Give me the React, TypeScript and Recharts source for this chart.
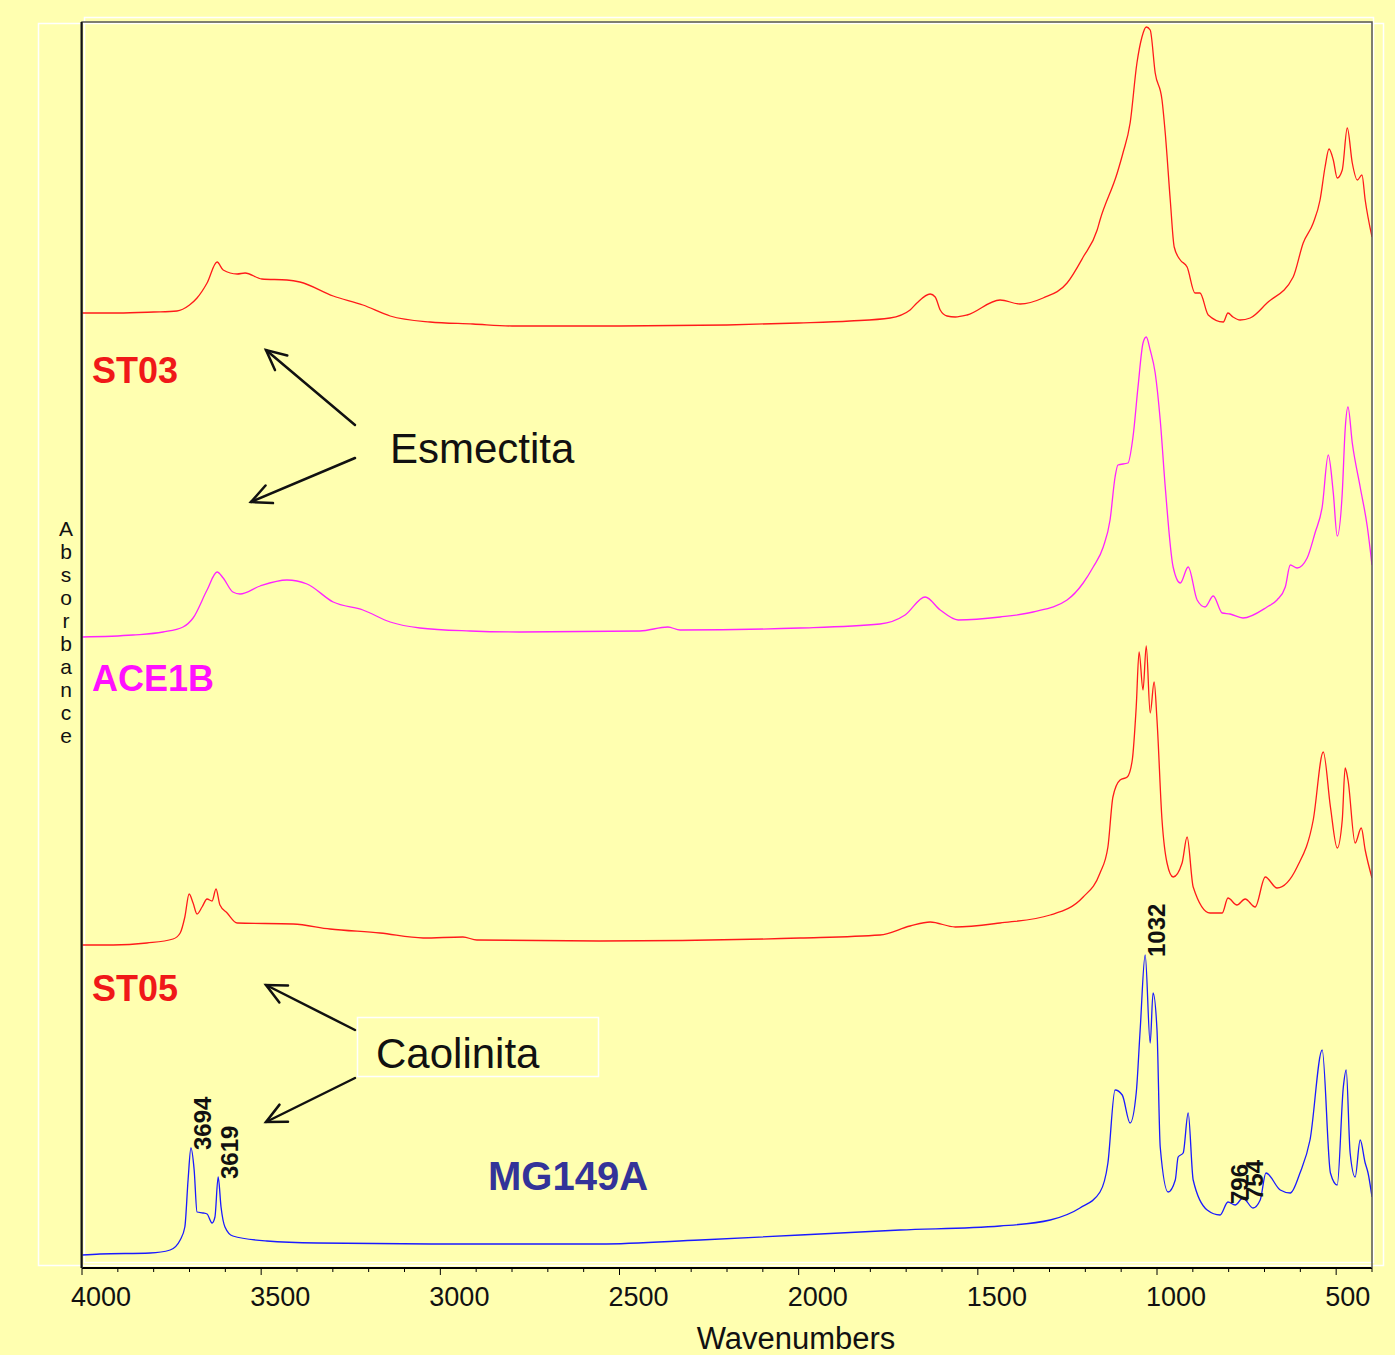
import React from "react";
import { LineChart, Line, XAxis, YAxis, ReferenceDot } from "recharts";

// ── FTIR spectra (wavenumber cm-1, absorbance offset per sample) ──

const ST03: [number, number][] = [
  [4000, 0.955], [3900, 0.955], [3800, 0.956], [3735, 0.957], [3700, 0.963], [3679, 0.97],
  [3651, 0.985], [3623, 1.006], [3606, 0.998], [3567, 0.994], [3545, 0.995], [3498, 0.989],
  [3428, 0.988], [3392, 0.986], [3299, 0.972], [3216, 0.963], [3140, 0.952], [3029, 0.946],
  [2909, 0.944], [2800, 0.942], [2500, 0.942], [2200, 0.943], [2000, 0.945], [1857, 0.947],
  [1745, 0.95], [1689, 0.958], [1670, 0.965], [1633, 0.974], [1619, 0.971], [1605, 0.958],
  [1586, 0.952], [1563, 0.951], [1530, 0.953], [1438, 0.968], [1382, 0.964], [1318, 0.97],
  [1251, 0.985], [1206, 1.011], [1167, 1.038], [1159, 1.048], [1111, 1.095], [1095, 1.115],
  [1075, 1.145], [1056, 1.205], [1042, 1.231], [1030, 1.241], [1019, 1.238], [1005, 1.195],
  [986, 1.168], [977, 1.135], [963, 1.068], [952, 1.021], [935, 1.008], [916, 1.001],
  [894, 0.975], [880, 0.975], [857, 0.953], [815, 0.946], [802, 0.955], [788, 0.951],
  [768, 0.948], [740, 0.95], [693, 0.965], [620, 0.991], [592, 1.025], [564, 1.045],
  [545, 1.068], [531, 1.101], [520, 1.119], [508, 1.108], [497, 1.09], [483, 1.098],
  [469, 1.14], [455, 1.105], [441, 1.088], [428, 1.093], [419, 1.068], [400, 1.031],
];

const ACE1B: [number, number][] = [
  [4000, 0.631], [3858, 0.633], [3774, 0.636], [3718, 0.641], [3690, 0.65], [3651, 0.678],
  [3623, 0.696], [3606, 0.69], [3579, 0.676], [3559, 0.674], [3503, 0.682], [3428, 0.688],
  [3372, 0.684], [3299, 0.666], [3216, 0.658], [3140, 0.646], [3057, 0.64], [2917, 0.637],
  [2778, 0.636], [2443, 0.637], [2365, 0.641], [2331, 0.638], [1996, 0.64], [1773, 0.644],
  [1703, 0.653], [1647, 0.671], [1605, 0.658], [1555, 0.648], [1438, 0.651], [1346, 0.656],
  [1251, 0.668], [1206, 0.685], [1178, 0.701], [1150, 0.721], [1131, 0.748], [1117, 0.791],
  [1109, 0.803], [1081, 0.805], [1067, 0.831], [1053, 0.881], [1039, 0.925], [1030, 0.931],
  [1019, 0.918], [1005, 0.895], [991, 0.848], [977, 0.781], [955, 0.701], [935, 0.685],
  [913, 0.701], [888, 0.668], [866, 0.661], [843, 0.672], [818, 0.655], [796, 0.654],
  [760, 0.65], [693, 0.661], [665, 0.668], [642, 0.681], [628, 0.703], [609, 0.7],
  [581, 0.71], [559, 0.735], [539, 0.761], [522, 0.813], [508, 0.775], [497, 0.732],
  [483, 0.775], [475, 0.838], [467, 0.861], [455, 0.825], [433, 0.781], [413, 0.741],
  [400, 0.703],
];

const ST05: [number, number][] = [
  [4000, 0.323], [3913, 0.323], [3819, 0.325], [3746, 0.329], [3726, 0.335], [3713, 0.351],
  [3701, 0.374], [3690, 0.365], [3679, 0.354], [3665, 0.361], [3651, 0.369], [3637, 0.367],
  [3626, 0.379], [3615, 0.363], [3595, 0.355], [3567, 0.345], [3411, 0.344], [3308, 0.339],
  [3168, 0.335], [3048, 0.33], [2937, 0.331], [2898, 0.328], [2554, 0.327], [1996, 0.33],
  [1773, 0.333], [1689, 0.342], [1633, 0.346], [1563, 0.341], [1438, 0.345], [1298, 0.353],
  [1206, 0.371], [1159, 0.395], [1137, 0.421], [1123, 0.471], [1103, 0.488], [1083, 0.491],
  [1069, 0.508], [1058, 0.561], [1050, 0.616], [1039, 0.578], [1030, 0.622], [1019, 0.555],
  [1008, 0.586], [1000, 0.548], [986, 0.448], [972, 0.405], [955, 0.391], [930, 0.405],
  [916, 0.431], [899, 0.381], [852, 0.355], [818, 0.355], [802, 0.37], [777, 0.363],
  [754, 0.369], [726, 0.361], [698, 0.391], [665, 0.38], [609, 0.401], [564, 0.448],
  [536, 0.516], [516, 0.461], [497, 0.42], [483, 0.448], [475, 0.5], [467, 0.488],
  [447, 0.425], [430, 0.44], [419, 0.418], [400, 0.39],
];

const MG149A: [number, number][] = [
  [4000, 0.013], [3950, 0.014], [3810, 0.015], [3754, 0.018], [3726, 0.028], [3713, 0.041],
  [3704, 0.088], [3696, 0.12], [3687, 0.098], [3679, 0.056], [3662, 0.055], [3651, 0.054],
  [3637, 0.045], [3629, 0.051], [3620, 0.091], [3612, 0.061], [3601, 0.041], [3579, 0.032],
  [3484, 0.027], [3344, 0.025], [2973, 0.024], [2554, 0.024], [2275, 0.028], [1717, 0.038],
  [1438, 0.042], [1298, 0.048], [1215, 0.06], [1159, 0.076], [1137, 0.105], [1117, 0.178],
  [1097, 0.173], [1075, 0.145], [1058, 0.175], [1047, 0.238], [1033, 0.313], [1019, 0.225],
  [1011, 0.275], [1000, 0.238], [991, 0.121], [969, 0.076], [949, 0.088], [941, 0.111],
  [927, 0.115], [913, 0.155], [899, 0.088], [860, 0.058], [824, 0.053], [802, 0.066],
  [782, 0.063], [760, 0.07], [732, 0.06], [712, 0.068], [696, 0.095], [656, 0.078],
  [628, 0.075], [601, 0.095], [573, 0.128], [539, 0.218], [516, 0.095], [497, 0.083],
  [480, 0.181], [472, 0.198], [461, 0.115], [447, 0.091], [433, 0.128], [419, 0.105],
  [411, 0.095], [400, 0.071],
];

const PEAKS = [
  { label: "3694", wn: 3696, a: 0.12 },
  { label: "3619", wn: 3620, a: 0.091 },
  { label: "1032", wn: 1033, a: 0.313 },
  { label: "796", wn: 802, a: 0.066 },
  { label: "754", wn: 760, a: 0.07 },
];

const MAJOR_TICKS = [4000, 3500, 3000, 2500, 2000, 1500, 1000, 500];
const ALL_TICKS = [
  4000, 3900, 3800, 3700, 3600, 3500, 3400, 3300, 3200, 3100, 3000, 2900, 2800, 2700,
  2600, 2500, 2400, 2300, 2200, 2100, 2000, 1900, 1800, 1700, 1600, 1500, 1400, 1300,
  1200, 1100, 1000, 900, 800, 700, 600, 500, 400,
];

const BG = "#ffffb0";
const FONT = "'Liberation Sans', Arial, sans-serif";

const toRows = (pts: [number, number][]) => pts.map(([wn, a]) => ({ wn, a }));

function WaveTick(props: any) {
  const { x, y, payload } = props;
  const v = payload.value;
  const major = MAJOR_TICKS.includes(v);
  return (
    <g>
      <line x1={x} x2={x} y1={y} y2={y + (major ? 7 : 4)} stroke="#000" strokeWidth={1} />
      {major && (
        <text x={x - 11} y={y + 38} fontSize={27} fontFamily={FONT} fill="#111" textAnchor="start">
          {v}
        </text>
      )}
    </g>
  );
}

function PeakLabel(props: any) {
  const { cx, cy, text } = props;
  if (cx == null || cy == null) return null;
  const tx = cx + 20;
  const ty = cy + 2;
  return (
    <text
      x={tx}
      y={ty}
      transform={`rotate(-90 ${tx} ${ty})`}
      fontSize={24}
      fontWeight="bold"
      fontFamily={FONT}
      fill="#111"
      textAnchor="start"
    >
      {text}
    </text>
  );
}

function Arrow({ x1, y1, x2, y2 }: { x1: number; y1: number; x2: number; y2: number }) {
  const ang = Math.atan2(y1 - y2, x1 - x2);
  const len = 22;
  const spread = 0.45;
  const ax = x2 + len * Math.cos(ang + spread);
  const ay = y2 + len * Math.sin(ang + spread);
  const bx = x2 + len * Math.cos(ang - spread);
  const by = y2 + len * Math.sin(ang - spread);
  return (
    <g stroke="#111" strokeWidth={2.5} fill="none" strokeLinecap="round">
      <line x1={x1} y1={y1} x2={x2} y2={y2} />
      <polyline points={`${ax},${ay} ${x2},${y2} ${bx},${by}`} />
    </g>
  );
}

export default function App() {
  const letters = "Absorbance".split("");
  return (
    <div
      style={{
        position: "absolute",
        left: 0,
        top: 0,
        width: 1395,
        height: 1355,
        background: BG,
        overflow: "hidden",
      }}
    >
      <svg width={1395} height={1355} style={{ position: "absolute", left: 0, top: 0 }}>
        <rect x={38.5} y={23.5} width={1345} height={1242} fill="none" stroke="#fff" strokeWidth={1.5} />
        <rect x={84.5} y={17.5} width={1289} height={1245} fill="none" stroke="#fff" strokeWidth={1.5} />
      </svg>
      <div style={{ position: "absolute", left: 0, top: 0 }}>
        <LineChart width={1395} height={1355} margin={{ top: 22, right: 23, bottom: 0, left: 82 }}>
          <XAxis
            dataKey="wn"
            type="number"
            domain={[400, 4000]}
            reversed
            ticks={ALL_TICKS}
            interval={0}
            tickSize={0}
            tickMargin={0}
            tick={<WaveTick />}
            height={87}
            axisLine={{ stroke: "#000", strokeWidth: 2 }}
            allowDataOverflow
          />
          <YAxis type="number" domain={[0, 1.246]} hide width={0} allowDataOverflow />
          <Line data={toRows(ST03)} type="monotone" dataKey="a" stroke="#ff1a1a" strokeWidth={1.3} dot={false} isAnimationActive={false} />
          <Line data={toRows(ACE1B)} type="monotone" dataKey="a" stroke="#ff22ff" strokeWidth={1.3} dot={false} isAnimationActive={false} />
          <Line data={toRows(ST05)} type="monotone" dataKey="a" stroke="#ff1a1a" strokeWidth={1.3} dot={false} isAnimationActive={false} />
          <Line data={toRows(MG149A)} type="monotone" dataKey="a" stroke="#1a1aff" strokeWidth={1.3} dot={false} isAnimationActive={false} />
          {PEAKS.map((p) => (
            <ReferenceDot
              key={p.label}
              x={p.wn}
              y={p.a}
              r={0}
              ifOverflow="visible"
              shape={(sp: any) => <PeakLabel {...sp} text={p.label} />}
            />
          ))}
        </LineChart>
      </div>
      <svg width={1395} height={1355} style={{ position: "absolute", left: 0, top: 0, pointerEvents: "none" }}>
        <path d="M82 1268 V22 H1372 V1268" fill="none" stroke="#555" strokeWidth={1.5} />
        <line x1={81.5} y1={22} x2={81.5} y2={1268} stroke="#111" strokeWidth={2} />
        <g fontFamily={FONT}>
          <text x={92} y={383} fontSize={36} fontWeight="bold" fill="#f01818">ST03</text>
          <text x={92} y={691} fontSize={36} fontWeight="bold" fill="#ff10ff">ACE1B</text>
          <text x={92} y={1001} fontSize={36} fontWeight="bold" fill="#f01818">ST05</text>
          <text x={488} y={1190} fontSize={40} fontWeight="bold" fill="#333399">MG149A</text>
          <text x={390} y={463} fontSize={42} fill="#111">Esmectita</text>
          <rect x={357.5} y={1017.5} width={241} height={59} fill="none" stroke="#fff" strokeWidth={1.5} />
          <text x={376} y={1068} fontSize={42} fill="#111">Caolinita</text>
          <text x={796} y={1349} fontSize={31} fill="#111" textAnchor="middle">Wavenumbers</text>
          <text fontSize={21} fill="#111" textAnchor="middle">
            {letters.map((ch, i) => (
              <tspan key={i} x={66} y={536 + i * 23}>
                {ch}
              </tspan>
            ))}
          </text>
        </g>
        <Arrow x1={355} y1={425} x2={266} y2={350} />
        <Arrow x1={355} y1={458} x2={251} y2={502} />
        <Arrow x1={355} y1={1030} x2={266} y2={985} />
        <Arrow x1={355} y1={1078} x2={266} y2={1122} />
      </svg>
    </div>
  );
}
